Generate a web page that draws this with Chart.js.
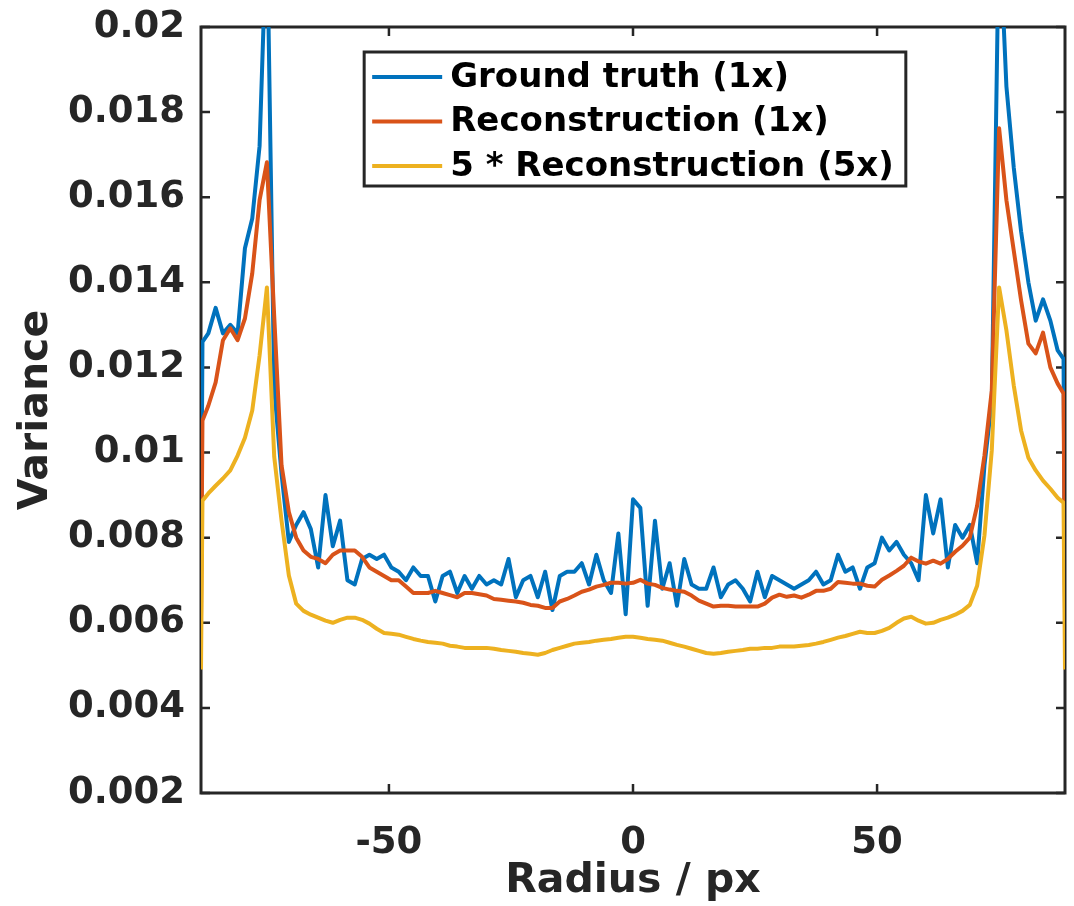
<!DOCTYPE html>
<html>
<head>
<meta charset="utf-8">
<script src="https://cdn.jsdelivr.net/npm/chart.js@4.4.1/dist/chart.umd.min.js"></script>
<style>
html, body { margin: 0; padding: 0; background: #fff; }
#wrap { width: 1074px; height: 906px; }
</style>
</head>
<body>
<div id="wrap"><canvas id="chart" width="1074" height="906"></canvas></div>
<script>
// radial variance profile
const radius = [
    -88.5, -88.2,
    -87, -85.5, -84, -82.5, -81, -79.5, -78, -76.5, -75,
    -73.5, -72, -70.5, -69, -67.5, -66, -64.5, -63, -61.5, -60,
    -58.5, -57, -55.5, -54, -52.5, -51, -49.5, -48, -46.5, -45,
    -43.5, -42, -40.5, -39, -37.5, -36, -34.5, -33, -31.5, -30,
    -28.5, -27, -25.5, -24, -22.5, -21, -19.5, -18, -16.5, -15,
    -13.5, -12, -10.5, -9, -7.5, -6, -4.5, -3, -1.5, 0,
    1.5, 3, 4.5, 6, 7.5, 9, 10.5, 12, 13.5, 15,
    16.5, 18, 19.5, 21, 22.5, 24, 25.5, 27, 28.5, 30,
    31.5, 33, 34.5, 36, 37.5, 39, 40.5, 42, 43.5, 45,
    46.5, 48, 49.5, 51, 52.5, 54, 55.5, 57, 58.5, 60,
    61.5, 63, 64.5, 66, 67.5, 69, 70.5, 72, 73.5, 75,
    76.5, 78, 79.5, 81, 82.5, 84, 85.5, 87,
    88.2, 88.5
];

const groundTruth = [
    0.0070, 0.0126,
    0.0128, 0.0134, 0.0128, 0.0130, 0.0128, 0.0148, 0.0155, 0.0172, 0.0225,
    0.0115, 0.0095, 0.0079, 0.0083, 0.0086, 0.0082, 0.0073, 0.0090, 0.0078, 0.0084,
    0.0070, 0.0069, 0.0075, 0.0076, 0.0075, 0.0076, 0.0073, 0.0072, 0.0070, 0.0073,
    0.0071, 0.0071, 0.0065, 0.0071, 0.0072, 0.0067, 0.0071, 0.0068, 0.0071, 0.0069,
    0.0070, 0.0069, 0.0075, 0.0066, 0.0070, 0.0071, 0.0066, 0.0072, 0.0063, 0.0071,
    0.0072, 0.0072, 0.0074, 0.0069, 0.0076, 0.0070, 0.0067, 0.0081, 0.0062, 0.0089,
    0.0087, 0.0064, 0.0084, 0.0068, 0.0074, 0.0064, 0.0075, 0.0069, 0.0068, 0.0068,
    0.0073, 0.0066, 0.0069, 0.0070, 0.0068, 0.0065, 0.0072, 0.0066, 0.0071, 0.0070,
    0.0069, 0.0068, 0.0069, 0.0070, 0.0072, 0.0069, 0.0070, 0.0076, 0.0072, 0.0073,
    0.0068, 0.0073, 0.0074, 0.0080, 0.0077, 0.0079, 0.0076, 0.0074, 0.0070, 0.0090,
    0.0081, 0.0089, 0.0073, 0.0083, 0.0080, 0.0083, 0.0074, 0.0097, 0.0112, 0.0225,
    0.0186, 0.0167, 0.0152, 0.0140, 0.0131, 0.0136, 0.0131, 0.0124,
    0.0122, 0.0066
];

const reconstruction = [
    0.0061, 0.01075,
    0.0111, 0.01165, 0.01264, 0.01292, 0.01264, 0.01315, 0.01421, 0.01593, 0.01682,
    0.0132, 0.0097, 0.0086, 0.0080, 0.0077, 0.00755, 0.0075, 0.0074, 0.0076, 0.0077,
    0.0077, 0.0077, 0.00755, 0.0073, 0.0072, 0.0071, 0.0070, 0.0070, 0.00685, 0.0067,
    0.0067, 0.0067, 0.00675, 0.0067, 0.00665, 0.0066, 0.0067, 0.0067, 0.00667, 0.00664,
    0.00656, 0.00654, 0.00652, 0.0065, 0.00647, 0.00642, 0.0064, 0.00635, 0.00635, 0.0065,
    0.00656, 0.00664, 0.00673, 0.00678, 0.00685, 0.00689, 0.00694, 0.00694, 0.00692, 0.00694,
    0.00701, 0.00692, 0.00689, 0.00682, 0.00678, 0.00675, 0.00673, 0.00664, 0.00652, 0.00645,
    0.00638, 0.0064, 0.0064, 0.00638, 0.00638, 0.00638, 0.00638, 0.00645, 0.00659, 0.00666,
    0.00661, 0.00664, 0.00659, 0.00666, 0.00675, 0.00675, 0.0068, 0.00696, 0.00694, 0.00692,
    0.00692, 0.00687, 0.00685, 0.00701, 0.00711, 0.00722, 0.00734, 0.00753, 0.00744, 0.00739,
    0.00746, 0.00739, 0.0075, 0.00767, 0.00781, 0.0080, 0.00875, 0.00993, 0.01146, 0.01762,
    0.01593, 0.01475, 0.01358, 0.01256, 0.01233, 0.01282, 0.0120, 0.01162,
    0.01139, 0.0063
];

const reconstruction5x = [
    0.0049, 0.00887,
    0.00904, 0.00922, 0.00939, 0.00958, 0.00993, 0.01035, 0.01099, 0.01228, 0.01388,
    0.0099, 0.0084, 0.00711, 0.00645, 0.00628, 0.00619, 0.00612, 0.00605, 0.0060, 0.00607,
    0.00612, 0.00612, 0.00607, 0.00598, 0.00586, 0.00576, 0.00574, 0.00572, 0.00567, 0.00562,
    0.00558, 0.00555, 0.00553, 0.00551, 0.00546, 0.00544, 0.00541, 0.00541, 0.00541, 0.00541,
    0.00539, 0.00536, 0.00534, 0.00532, 0.00529, 0.00527, 0.00525, 0.00529, 0.00536, 0.00541,
    0.00546, 0.00551, 0.00553, 0.00555, 0.00558, 0.0056, 0.00562, 0.00565, 0.00567, 0.00567,
    0.00565, 0.00562, 0.0056, 0.00558, 0.00553, 0.00548, 0.00544, 0.00539, 0.00534, 0.00529,
    0.00527, 0.00529, 0.00532, 0.00534, 0.00536, 0.00539, 0.00539, 0.00541, 0.00541, 0.00544,
    0.00544, 0.00544, 0.00546, 0.00548, 0.00551, 0.00555, 0.0056, 0.00565, 0.00569, 0.00574,
    0.00579, 0.00576, 0.00576, 0.00581, 0.00588, 0.0060, 0.0061, 0.00614, 0.00605, 0.00598,
    0.0060, 0.00607, 0.00612, 0.00619, 0.00628, 0.00642, 0.00687, 0.00805, 0.01005, 0.01388,
    0.01287, 0.01158, 0.01052, 0.00988, 0.00958, 0.00934, 0.00915, 0.00894,
    0.00882, 0.0049
];

const seriesLabels = ['Ground truth (1x)', 'Reconstruction (1x)', '5 * Reconstruction (5x)'];
const seriesColors = ['#0072BD', '#D95319', '#EDB120'];
const xTicks = [-50, 0, 50];
const yMin = 0.002, yMax = 0.02, yStep = 0.002;

const axisColor = '#262626';
const fontFamily = '"DejaVu Sans", "Liberation Sans", sans-serif';

function toPoints(values) {
    return radius.map((r, i) => ({ x: r, y: values[i] }));
}

// MATLAB-style box with inward ticks, plus the legend drawn inside the axes
const axesBox = {
    id: 'axesBox',
    beforeDatasetsDraw(chart) {
        const { ctx, chartArea: a, scales } = chart;
        ctx.save();
        ctx.strokeStyle = axisColor;
        ctx.lineWidth = 3;
        ctx.strokeRect(a.left, a.top, a.right - a.left, a.bottom - a.top);
        ctx.lineWidth = 2.5;
        ctx.beginPath();
        scales.x.ticks.forEach(t => {
            const px = scales.x.getPixelForValue(t.value);
            ctx.moveTo(px, a.bottom); ctx.lineTo(px, a.bottom - 9);
            ctx.moveTo(px, a.top); ctx.lineTo(px, a.top + 9);
        });
        scales.y.ticks.forEach(t => {
            const py = scales.y.getPixelForValue(t.value);
            ctx.moveTo(a.left, py); ctx.lineTo(a.left + 9, py);
            ctx.moveTo(a.right, py); ctx.lineTo(a.right - 9, py);
        });
        ctx.stroke();
        ctx.restore();
    },
    afterDraw(chart) {
        const { ctx, chartArea: a } = chart;
        const sets = chart.data.datasets;
        ctx.save();
        ctx.font = 'bold 34px ' + fontFamily;
        const textW = Math.max(...sets.map(d => ctx.measureText(d.label).width));
        const lineLen = 70, pad = 8, rowH = 44.5;
        const w = pad + lineLen + pad + textW + pad + 4;
        const h = 25 + rowH * (sets.length - 1) + 20;
        const left = (a.left + a.right) / 2 + 2 - w / 2;
        const top = a.top + 25;
        ctx.fillStyle = '#fff';
        ctx.fillRect(left, top, w, h);
        ctx.lineWidth = 3;
        ctx.strokeStyle = axisColor;
        ctx.strokeRect(left, top, w, h);
        sets.forEach((d, i) => {
            const cy = top + 25 + i * rowH;
            ctx.strokeStyle = d.borderColor;
            ctx.lineWidth = 4;
            ctx.beginPath();
            ctx.moveTo(left + pad, cy);
            ctx.lineTo(left + pad + lineLen, cy);
            ctx.stroke();
            ctx.fillStyle = '#000';
            ctx.textBaseline = 'middle';
            ctx.textAlign = 'left';
            ctx.fillText(d.label, left + pad + lineLen + pad, cy + 1);
        });
        ctx.restore();
    }
};

const datasets = [groundTruth, reconstruction, reconstruction5x].map((vals, i) => ({
    label: seriesLabels[i],
    data: toPoints(vals),
    borderColor: seriesColors[i],
    backgroundColor: seriesColors[i],
    borderWidth: 4,
    borderJoinStyle: 'round',
    pointRadius: 0,
    tension: 0,
    fill: false,
    order: 3 - i
}));

new Chart(document.getElementById('chart'), {
    type: 'line',
    data: { datasets: datasets },
    options: {
        responsive: false,
        animation: false,
        events: [],
        layout: { padding: { top: 27, right: 9, bottom: 0, left: 0 } },
        plugins: { legend: { display: false }, tooltip: { enabled: false } },
        scales: {
            x: {
                type: 'linear',
                min: -88.5,
                max: 88.5,
                afterBuildTicks: s => { s.ticks = xTicks.map(v => ({ value: v })); },
                afterFit: s => { s.height = 113; s.paddingLeft = 0; s.paddingRight = 0; },
                grid: { display: false, drawTicks: false },
                border: { display: false },
                ticks: {
                    autoSkip: false, maxRotation: 0, padding: 28,
                    color: axisColor,
                    font: { family: fontFamily, size: 37, weight: 'bold' }
                },
                title: {
                    display: true, text: 'Radius / px', color: axisColor,
                    padding: { top: 0, bottom: 0 },
                    font: { family: fontFamily, size: 41, weight: 'bold' }
                }
            },
            y: {
                min: yMin,
                max: yMax,
                afterFit: s => { s.width = 201; s.paddingTop = 0; s.paddingBottom = 0; },
                grid: { display: false, drawTicks: false },
                border: { display: false },
                ticks: {
                    stepSize: yStep, autoSkip: false, padding: 16,
                    color: axisColor,
                    font: { family: fontFamily, size: 37, weight: 'bold' },
                    callback: v => String(parseFloat(v.toFixed(3)))
                },
                title: {
                    display: true, text: 'Variance', color: axisColor,
                    padding: { top: 12, bottom: 0 },
                    font: { family: fontFamily, size: 41, weight: 'bold' }
                }
            }
        }
    },
    plugins: [axesBox]
});
</script>
</body>
</html>
